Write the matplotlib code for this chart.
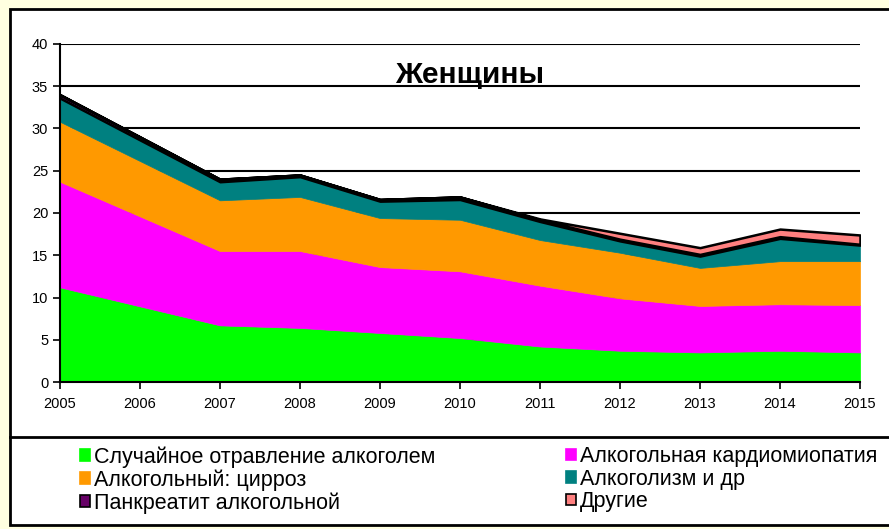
import matplotlib.pyplot as plt
from matplotlib.patches import Rectangle, Patch
from matplotlib.lines import Line2D

years = [2005, 2007, 2008, 2009, 2010, 2011, 2012, 2013, 2014, 2015]
poisoning = [11.2, 6.7, 6.4, 5.8, 5.2, 4.2, 3.7, 3.5, 3.7, 3.5]
cardiomyopathy = [12.5, 8.8, 9.1, 7.8, 7.9, 7.2, 6.2, 5.5, 5.5, 5.6]
cirrhosis = [7.1, 6.0, 6.4, 5.8, 6.1, 5.4, 5.4, 4.5, 5.1, 5.2]
alcoholism = [2.8, 2.2, 2.4, 2.0, 2.4, 2.2, 1.4, 1.4, 2.7, 1.9]
pancreatitis = [0.4, 0.3, 0.2, 0.2, 0.3, 0.2, 0.2, 0.2, 0.2, 0.1]
other = [0, 0, 0, 0, 0, 0.1, 0.7, 0.8, 0.9, 1.1]

labels = ["Случайное отравление алкоголем", "Алкогольная кардиомиопатия",
          "Алкогольный: цирроз", "Алкоголизм и др",
          "Панкреатит алкогольной", "Другие"]
colors = ["#00FF00", "#FF00FF", "#FF9900", "#008080", "#660066", "#FF8080"]

plt.rcParams['font.family'] = ['Liberation Sans', 'DejaVu Sans']

fig = plt.figure(figsize=(8.89, 5.29), dpi=100, facecolor="#FFFFE0")

# white chart frame with legend separator
fig.add_artist(Rectangle((10 / 889, 1 - 525 / 529), 1.0, (525 - 9) / 529,
                         transform=fig.transFigure, facecolor="white",
                         edgecolor="black", linewidth=2, zorder=0))
fig.add_artist(Line2D([10 / 889, 1.0], [1 - 437 / 529, 1 - 437 / 529],
                      transform=fig.transFigure, color="black", linewidth=2))

ax = fig.add_axes([60 / 889, 1 - 382 / 529, 800 / 889, 338 / 529])
ax.set_facecolor("none")

series = [poisoning, cardiomyopathy, cirrhosis, alcoholism, pancreatitis, other]
polys = ax.stackplot(years, *series, colors=colors, zorder=3)
for i, p in enumerate(polys):
    if i >= 4:
        p.set_edgecolor("black")
        p.set_linewidth(1.8)
    else:
        p.set_edgecolor(colors[i])
        p.set_linewidth(0.5)

ax.set_xlim(2005, 2015)
ax.set_ylim(0, 40)
ax.set_xticks(range(2005, 2016))
ax.set_yticks(range(0, 41, 5))
ax.yaxis.grid(True, color="black", linewidth=1.5)
ax.set_axisbelow(True)
for s in ["top", "right"]:
    ax.spines[s].set_visible(False)
for s in ["left", "bottom"]:
    ax.spines[s].set_linewidth(1.5)
    ax.spines[s].set_zorder(5)
ax.tick_params(axis="both", length=5, width=1.2, labelsize=10.5, colors="black")
ax.tick_params(axis="x", pad=6)

fig.text(470 / 889, 1 - 75 / 529, "Женщины", ha="center", va="center",
         fontsize=21.5, fontweight="bold")

handles = [Patch(facecolor=c, edgecolor=("black" if i >= 4 else c), linewidth=1.2)
           for i, c in enumerate(colors)]
leg_kw = dict(loc="upper left", frameon=False, fontsize=15.5, handlelength=0.45,
              handleheight=0.45, handletextpad=0.2, labelspacing=0.07,
              borderaxespad=0, borderpad=0)
for col, x0 in [([0, 2, 4], 80), ([1, 3, 5], 566)]:
    fig.legend([handles[i] for i in col], [labels[i] for i in col],
               bbox_to_anchor=(x0 / 889, 1 - 446 / 529), **leg_kw)

fig.savefig("out.png", dpi=100, facecolor=fig.get_facecolor())
